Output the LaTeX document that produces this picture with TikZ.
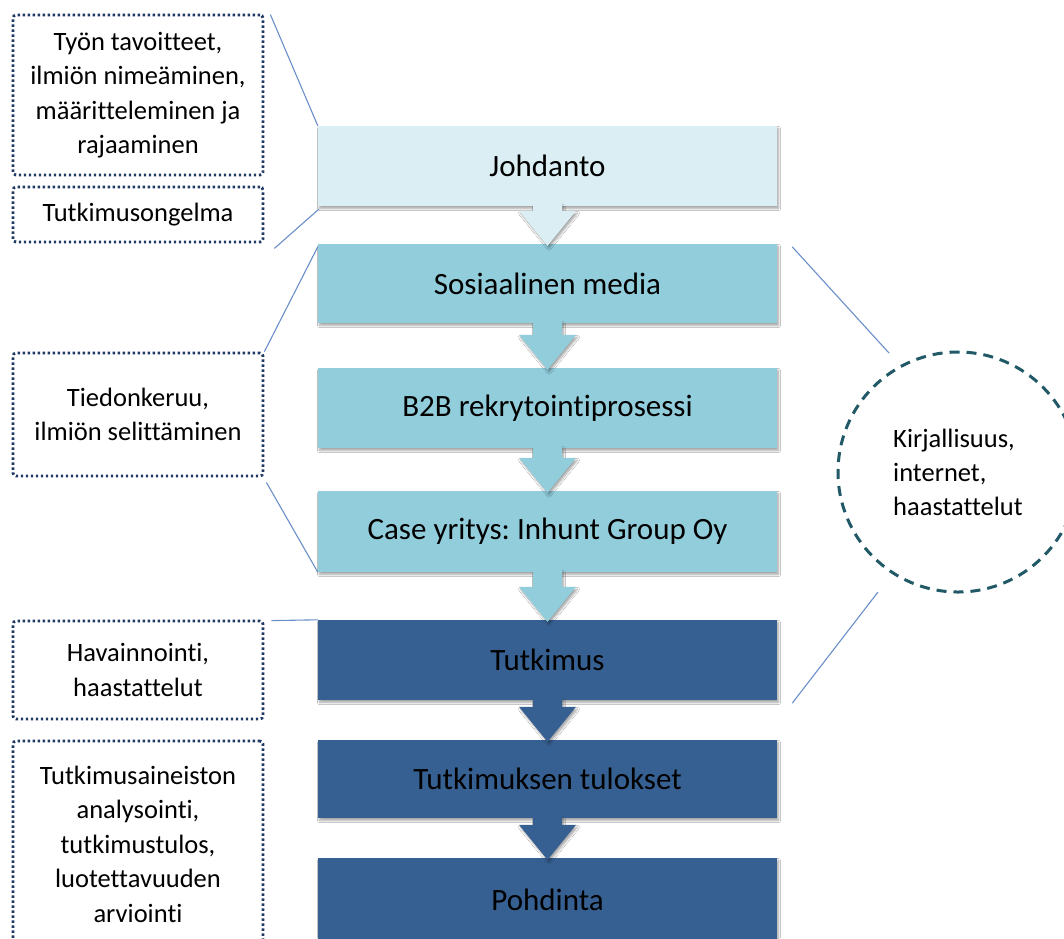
\documentclass[tikz,border=0pt]{standalone}
\usepackage{fontspec}
\setmainfont{Carlito}[Ligatures={NoCommon}]
\frenchspacing
\usetikzlibrary{calc,shadows.blur}
\definecolor{lightbox}{HTML}{DAEEF3}
\definecolor{midbox}{HTML}{92CDDC}
\definecolor{darkbox}{HTML}{376092}
\definecolor{connline}{HTML}{6A8FC9}
\definecolor{dotline}{HTML}{1F3864}
\definecolor{circline}{HTML}{215967}
\tikzset{
  boxshadow/.style={blur shadow={shadow xshift=1.5pt, shadow yshift=-2.5pt, shadow blur steps=6, shadow opacity=35, shadow blur radius=2pt}},
  mainbox/.style={rectangle, minimum width=459pt, minimum height=80pt, inner sep=0pt, text=black, font=\fontsize{31}{37}\selectfont, boxshadow},
  notebox/.style={rectangle, rounded corners=3pt, draw=dotline, line width=2.8pt, dash pattern=on 2.4pt off 2.6pt, minimum width=250pt, inner sep=0pt, align=center, text=black, font=\fontsize{26.5}{34.5}\selectfont},
  conn/.style={draw=connline, line width=1.1pt},
}
\newcommand{\flowarrow}[3]{%
  \fill[#3, boxshadow] ($(#1.south)+(-14.5,-2)$) -- ($(#2.north)+(-14.5,-33)$) -- ($(#2.north)+(-28.5,-33)$) -- ($(#2.north)+(0,2)$) -- ($(#2.north)+(28.5,-33)$) -- ($(#2.north)+(14.5,-33)$) -- ($(#1.south)+(14.5,-2)$) -- cycle;}
\begin{document}
\begin{tikzpicture}[x=1pt,y=-1pt]
\useasboundingbox (0,0) rectangle (1064,938);
\fill[white] (0,0) rectangle (1064,938);
% main flow boxes
\node[mainbox, fill=lightbox, minimum height=80pt] (jo) at (547.5,166) {Johdanto};
\node[mainbox, fill=midbox, minimum height=79pt] (so) at (547.5,283.5) {Sosiaalinen media};
\node[mainbox, fill=midbox, minimum height=80pt] (b2) at (547.5,408) {B2B rekrytointiprosessi};
\node[mainbox, fill=midbox, minimum height=81pt] (ca) at (547.5,531.5) {Case yritys: Inhunt Group Oy};
\node[mainbox, fill=darkbox, minimum height=80pt] (tu) at (547.5,660) {Tutkimus};
\node[mainbox, fill=darkbox, minimum height=78pt] (tt) at (547.5,779) {Tutkimuksen tulokset};
\node[mainbox, fill=darkbox, minimum height=84pt] (po) at (547.5,900) {Pohdinta};
% arrows
\flowarrow{jo}{so}{lightbox}
\flowarrow{so}{b2}{midbox}
\flowarrow{b2}{ca}{midbox}
\flowarrow{ca}{tu}{midbox}
\flowarrow{tu}{tt}{darkbox}
\flowarrow{tt}{po}{darkbox}
% note boxes
\node[notebox, minimum height=160pt] (n1) at (138,95) {Työn tavoitteet,\\ilmiön nimeäminen,\\määritteleminen ja\\rajaaminen};
\node[notebox, minimum height=55pt] (n2) at (138,214.5) {Tutkimusongelma};
\node[notebox, minimum height=123pt] (n3) at (138,414.5) {Tiedonkeruu,\\ilmiön selittäminen};
\node[notebox, minimum height=98pt] (n4) at (138,670) {Havainnointi,\\haastattelut};
\node[notebox, minimum height=206pt] (n5) at (138,844) {Tutkimusaineiston\\analysointi,\\tutkimustulos,\\luotettavuuden\\arviointi};
% circle
\node[circle, draw=circline, line width=3pt, dash pattern=on 10pt off 7pt, minimum size=240pt, inner sep=0pt, align=left, text=black, font=\fontsize{26.5}{34}\selectfont] (ci) at (958,472) {Kirjallisuus,\\internet,\\haastattelut};
\coordinate (c1) at ($(ci.center)+(-69,-119)$);
\coordinate (c2) at ($(ci.center)+(-80,120)$);
% connectors
\draw[conn] ($(n1.north east)+(6,1)$) -- (jo.north west);
\draw[conn] ($(n2.south east)+(10,5)$) -- ($(jo.south west)+(1,3)$);
\draw[conn] (n3.north east) -- ($(so.north west)+(0,3)$);
\draw[conn] ($(n3.south east)+(2,5)$) -- (ca.south west);
\draw[conn] ($(n4.north east)+(7,1)$) -- (tu.north west);
\draw[conn] ($(so.north east)+(15,3)$) -- (c1);
\draw[conn] ($(tu.south east)+(15,3)$) -- (c2);
\end{tikzpicture}
\end{document}
